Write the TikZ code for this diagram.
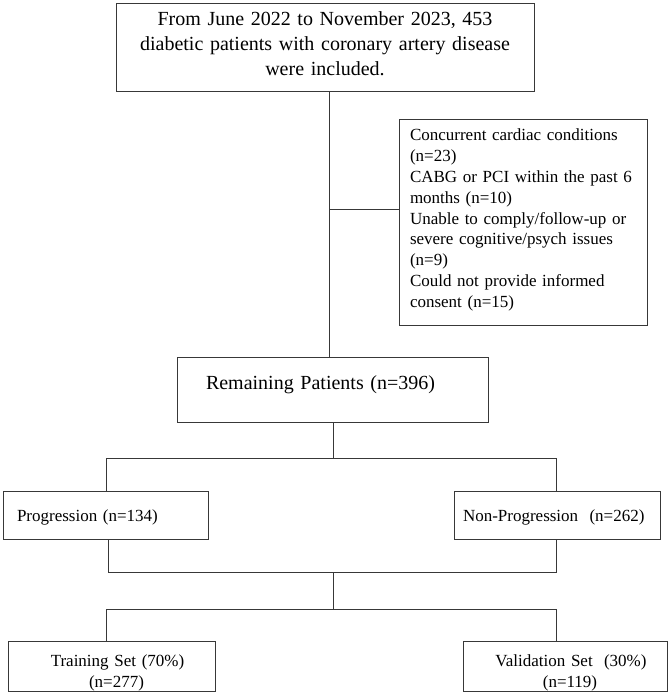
\documentclass[tikz,border=0pt]{standalone}
\usepackage{fontspec}
\setmainfont{Liberation Serif}
\begin{document}
\begin{tikzpicture}[x=1pt,y=-1pt,
  box/.style={draw=black!78, line width=1pt, inner ysep=0pt},
  link/.style={draw=black!78, line width=1pt},
  big/.style={font=\fontsize{20}{25}\selectfont},
  small/.style={font=\fontsize{17}{20.9}\selectfont}]
\useasboundingbox (0,0) rectangle (669,694);
% top box
\node[box, big, minimum width=418pt, minimum height=88pt, text width=398pt, inner xsep=10pt, align=center] (top) at (325,47)
  {From June 2022 to November 2023, 453\\diabetic patients with coronary artery disease\\were included.\vspace*{6pt}};
% exclusion box
\node[box, small, minimum width=248pt, minimum height=206pt, text width=226pt, inner xsep=11pt, align=left] (excl) at (523,222)
  {Concurrent cardiac conditions\\(n=23)\\CABG or PCI within the past 6\\months (n=10)\\Unable to comply/follow-up or\\severe cognitive/psych issues\\(n=9)\\Could not provide informed\\consent (n=15)\vspace*{4pt}};
% remaining
\node[box, big, minimum width=311pt, minimum height=65pt, text width=253pt, inner xsep=29pt, align=left] (rem) at (332.5,389.5)
  {Remaining Patients (n=396)\vspace*{10pt}};
% progression
\node[box, small, minimum width=205pt, minimum height=48pt, text width=177pt, inner xsep=14pt, align=left] (prog) at (105.5,515)
  {\rule{0pt}{17pt}Progression (n=134)};
% non-progression
\node[box, small, minimum width=206pt, minimum height=48pt, text width=188pt, inner xsep=9pt, align=left] (nprog) at (557,515)
  {\rule{0pt}{17pt}Non-Progression\ \ (n=262)};
% training
\node[box, small, minimum width=207pt, minimum height=50pt, text width=187pt, inner xsep=10pt, align=center] (train) at (111.5,666)
  {\hspace*{12pt}\rule{0pt}{25pt}Training Set (70\%)\\\hspace*{10pt}(n=277)};
% validation
\node[box, small, minimum width=204pt, minimum height=50pt, text width=184pt, inner xsep=10pt, align=center] (val) at (565,666)
  {\hspace*{12pt}\rule{0pt}{25pt}Validation Set\ \ (30\%)\\\hspace*{10pt}(n=119)};
% connectors
\coordinate (jx) at (329,209);
\draw[link] (top.south -| jx) -- (rem.north -| jx);
\draw[link] (jx) -- (jx -| excl.west);
\coordinate (s1) at (333,458);
\coordinate (pl) at (106,458);
\coordinate (pr) at (556,458);
\draw[link] (rem.south -| s1) -- (s1);
\draw[link] (prog.north -| pl) -- (pl) -- (pr) -- (nprog.north -| pr);
\coordinate (ql) at (108,572);
\coordinate (qr) at (556,572);
\coordinate (m1) at (333,572);
\coordinate (rl) at (106,609);
\coordinate (rr) at (556,609);
\draw[link] (prog.south -| ql) -- (ql) -- (qr) -- (nprog.south -| qr);
\draw[link] (m1) -- (m1 |- rl);
\draw[link] (train.north -| rl) -- (rl) -- (rr) -- (val.north -| rr);
\end{tikzpicture}
\end{document}
